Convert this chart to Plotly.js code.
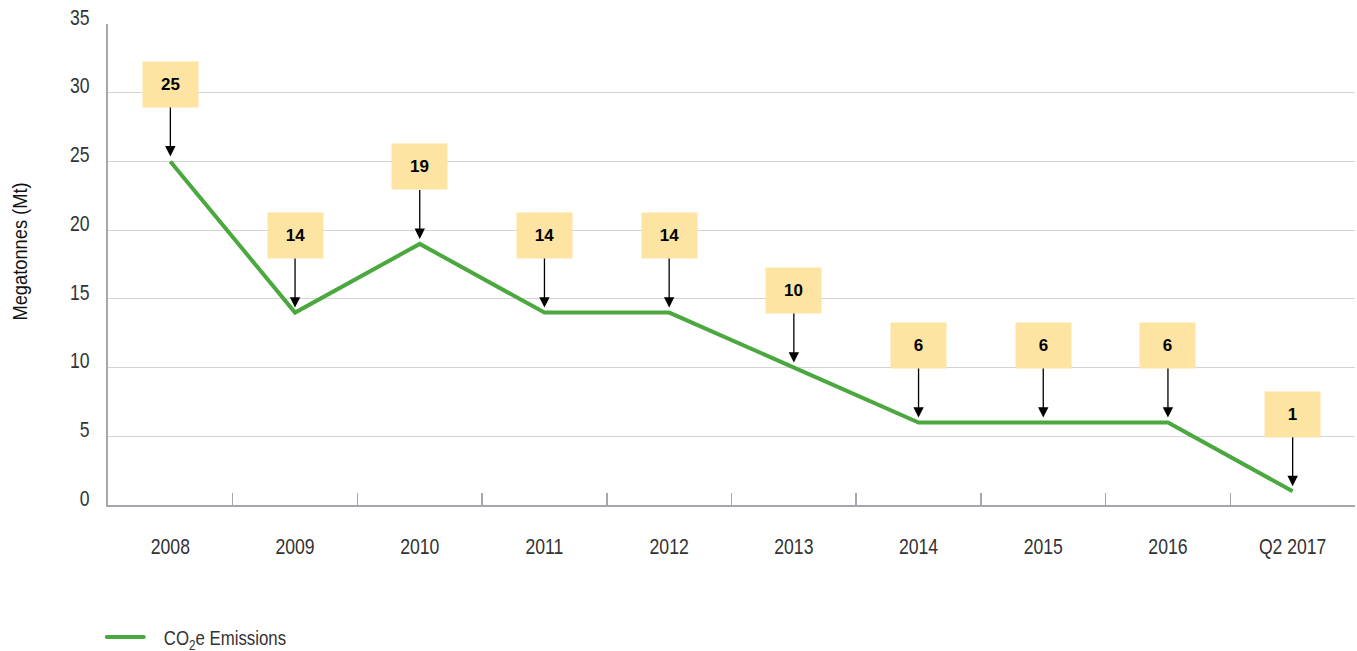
<!DOCTYPE html>
<html>
<head>
<meta charset="utf-8">
<script src="https://cdn.plot.ly/plotly-3.0.1.min.js"></script>
<style>html,body{margin:0;padding:0;background:#fff;}#chart{width:1357px;height:651px;}</style>
</head>
<body>
<div id="chart"></div>
<script>
const categories = ["2008","2009","2010","2011","2012","2013","2014","2015","2016","Q2 2017"];
const emissions = [25, 14, 19, 14, 14, 10, 6, 6, 6, 1];
const seriesName = "CO<sub>2</sub>e Emissions";
const yTicks = [0, 5, 10, 15, 20, 25, 30, 35];

const FONT = "'Liberation Sans', Arial, sans-serif";

const annotations = categories.map((c, i) => ({
  x: i, y: emissions[i], xref: 'x', yref: 'y',
  text: '<b>' + emissions[i] + '</b>',
  showarrow: true, arrowhead: 2, arrowsize: 1.6, arrowwidth: 1.3, arrowcolor: '#000',
  ax: 0, ay: -77, standoff: 5,
  bgcolor: '#fde4a2', width: 55, height: 45, borderpad: 0,
  font: {family: FONT, size: 17, color: '#000'}
}));

Plotly.newPlot('chart', [{
  x: categories, y: emissions, type: 'scatter', mode: 'lines',
  name: seriesName,
  line: {color: '#4aa83e', width: 4}
}], {
  width: 1357, height: 651,
  margin: {l: 108, r: 2, t: 24, b: 146, autoexpand: false},
  paper_bgcolor: '#fff', plot_bgcolor: '#fff',
  font: {family: FONT, color: '#333'},
  showlegend: true,
  legend: {x: -0.005, xanchor: 'left', y: -0.275, yanchor: 'middle', orientation: 'h',
           font: {family: FONT, size: 21, color: '#333'}},
  xaxis: {
    type: 'category', range: [-0.5, 9.5], tickson: 'boundaries', automargin: false,
    ticks: 'inside', ticklen: 12, tickwidth: 1.5, tickcolor: '#a6a6ad',
    showline: true, linecolor: '#a6a6ad', linewidth: 2,
    showgrid: false, zeroline: false,
    ticklabelstandoff: 21,
    tickfont: {family: FONT, size: 22, color: '#333'}
  },
  yaxis: {
    range: [0, 35], tickvals: yTicks, ticktext: yTicks.map(String), automargin: false,
    showline: true, linecolor: '#a6a6ad', linewidth: 2,
    showgrid: true, gridcolor: '#d4d4d4', gridwidth: 1,
    zeroline: false, ticks: '',
    ticklabelstandoff: 12, ticklabelshift: -7,
    tickfont: {family: FONT, size: 22, color: '#333'},
    title: {text: 'Megatonnes (Mt)', standoff: 32, font: {family: FONT, size: 21, color: '#111'}}
  },
  annotations: annotations
}, {displayModeBar: false, staticPlot: true}).then(gd => {
  // emulate the condensed typeface of the original by narrowing glyphs
  const condense = (sel, f) => gd.querySelectorAll(sel).forEach(t => {
    const w = t.getComputedTextLength();
    if (w > 0) {
      t.setAttribute('textLength', (w * f).toFixed(1));
      t.setAttribute('lengthAdjust', 'spacingAndGlyphs');
    }
  });
  condense('.xtick text, .ytick text, .legendtext', 0.8);
  condense('.g-ytitle text', 0.87);
  // the original's axis title sits a little above the plot's middle
  const yt = gd.querySelector('.g-ytitle');
  if (yt) yt.setAttribute('transform', 'translate(0,-13)');
  // legend swatch: longer line with rounded caps and a wider gap before the text
  gd.querySelectorAll('.legendlines path').forEach(p => {
    p.setAttribute('d', 'M5,0h37');
    p.style.strokeLinecap = 'round';
  });
  gd.querySelectorAll('.legendtext').forEach(t => t.setAttribute('x', '62'));
});
</script>
</body>
</html>
